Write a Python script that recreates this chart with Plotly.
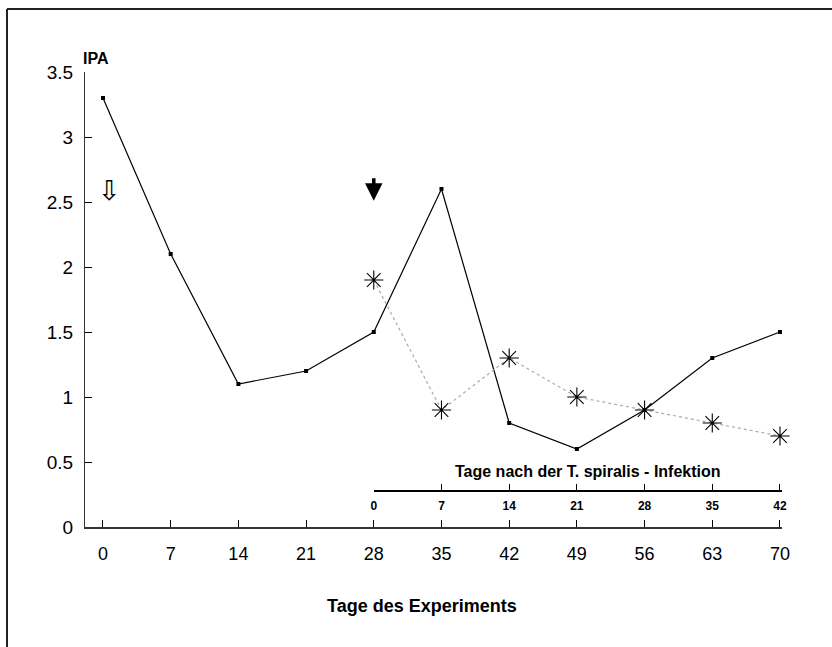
import plotly.graph_objects as go

# Data
days = [0, 7, 14, 21, 28, 35, 42, 49, 56, 63, 70]
ipa = [3.3, 2.1, 1.1, 1.2, 1.5, 2.6, 0.8, 0.6, 0.9, 1.3, 1.5]

inf_days = [0, 7, 14, 21, 28, 35, 42]
ipa_inf = [1.9, 0.9, 1.3, 1.0, 0.9, 0.8, 0.7]

y_ticks = [0, 0.5, 1, 1.5, 2, 2.5, 3, 3.5]
y_labels = ["0", "0.5", "1", "1.5", "2", "2.5", "3", "3.5"]

FONT = "Liberation Sans, Arial, sans-serif"

fig = go.Figure()

fig.add_trace(go.Scatter(
    x=days, y=ipa, mode="lines+markers",
    line=dict(color="black", width=1.2),
    marker=dict(symbol="square", size=4, color="black"),
    showlegend=False, hoverinfo="skip", cliponaxis=False,
))

fig.add_trace(go.Scatter(
    x=inf_days, y=ipa_inf, mode="lines+markers", xaxis="x2", yaxis="y",
    line=dict(color="#aaaaaa", width=1.2, dash="dot"),
    marker=dict(symbol="asterisk-open", size=16, color="black",
                line=dict(color="black", width=1.1)),
    showlegend=False, hoverinfo="skip", cliponaxis=False,
))

x_lo, x_hi = -1.86, 70.21
x2_start = (28 - x_lo) / (x_hi - x_lo)

fig.update_layout(
    width=832, height=647,
    margin=dict(l=85, r=50, t=72, b=120),
    paper_bgcolor="white", plot_bgcolor="rgba(0,0,0,0)",
    font=dict(family=FONT, color="black"),
    xaxis=dict(
        range=[x_lo, x_hi], tickmode="array", tickvals=days,
        ticktext=[str(d) for d in days],
        ticks="inside", ticklen=7, tickcolor="black", tickwidth=1,
        showline=True, linecolor="#333", linewidth=1.5,
        showgrid=False, zeroline=False,
        tickfont=dict(size=18, family=FONT), ticklabelstandoff=10,
    ),
    xaxis2=dict(
        domain=[x2_start, 1.0], range=[0, x_hi - 28],
        anchor="free", position=36 / 455, side="bottom",
        tickmode="array", tickvals=inf_days,
        ticktext=[str(d) for d in inf_days],
        ticks="inside", ticklen=6, tickcolor="black", tickwidth=1,
        showline=True, linecolor="black", linewidth=2,
        showgrid=False, zeroline=False,
        tickfont=dict(size=12, family=FONT, weight="bold"), ticklabelstandoff=4,
    ),
    yaxis=dict(
        range=[0, 3.5], tickmode="array", tickvals=y_ticks, ticktext=y_labels,
        ticks="inside", ticklen=7, tickcolor="black", tickwidth=1,
        showline=True, linecolor="#333", linewidth=1,
        showgrid=False, zeroline=False,
        tickfont=dict(size=19, family=FONT), ticklabelstandoff=7,
    ),
    shapes=[
        dict(type="line", xref="paper", yref="paper", x0=-78/697, x1=747/697,
             y0=1 + 63/455, y1=1 + 63/455, line=dict(color="#222", width=2)),
        dict(type="line", xref="paper", yref="paper", x0=-78/697, x1=-78/697,
             y0=1 + 63/455, y1=-120/455, line=dict(color="#222", width=2)),
    ],
    annotations=[
        dict(text="IPA", xref="paper", yref="paper", x=-4/697, y=1 + 14/455,
             xanchor="left", yanchor="middle", showarrow=False,
             font=dict(size=16, family=FONT, weight="bold")),
        dict(text="Tage des Experiments", xref="paper", yref="paper",
             x=(422 - 85) / 697, y=-(606 - 527) / 455, xanchor="center",
             yanchor="middle", showarrow=False,
             font=dict(size=18, family=FONT, weight="bold")),
        dict(text="Tage nach der T. spiralis - Infektion", xref="x", yref="y",
             x=50.2, y=(527 - 471) / 130, xanchor="center", yanchor="middle",
             showarrow=False, font=dict(size=16, family=FONT, weight="bold")),
        dict(x=28, y=2.51, xref="x", yref="y", ax=0, ay=-24, text="",
             showarrow=True, arrowhead=2, arrowsize=1, arrowwidth=3.5,
             arrowcolor="black"),
        dict(text="⇩", x=0.72, y=2.59, xref="x", yref="y", showarrow=False,
             xanchor="center", yanchor="middle",
             font=dict(size=27, family="DejaVu Sans", color="black")),
    ],
)

fig.write_html("out.html")
